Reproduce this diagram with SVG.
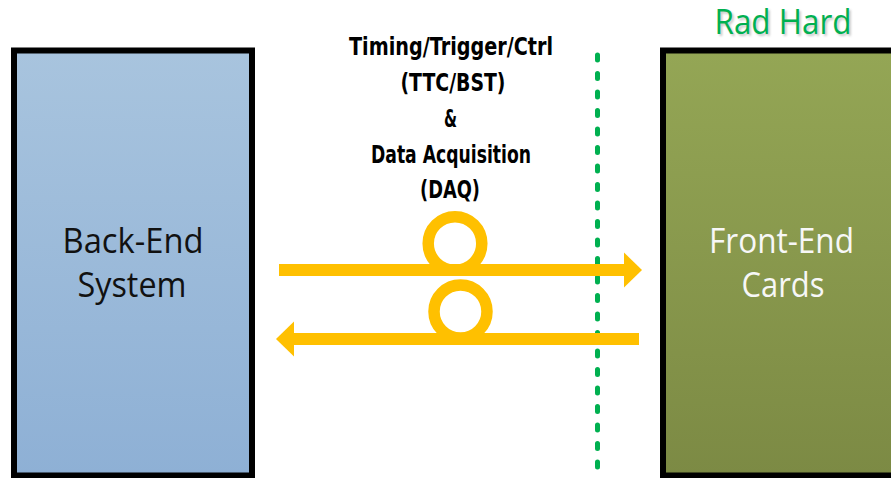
<svg xmlns="http://www.w3.org/2000/svg" width="891" height="478" viewBox="0 0 891 478">
  <defs>
    <linearGradient id="gBack" x1="0" y1="0" x2="0" y2="1">
      <stop offset="0" stop-color="#a8c4de"/>
      <stop offset="1" stop-color="#8eb0d5"/>
    </linearGradient>
    <linearGradient id="gFront" x1="0" y1="0" x2="0" y2="1">
      <stop offset="0" stop-color="#94a655"/>
      <stop offset="1" stop-color="#7c8a44"/>
    </linearGradient>
    <filter id="soft" x="-10%" y="-20%" width="130%" height="160%">
      <feGaussianBlur stdDeviation="1"/>
    </filter>
  </defs>
  <style>
    .box { stroke: #000; stroke-width: 6; }
    .boxText { font-family: "Open Sans", "Liberation Sans", sans-serif; font-weight: 400; font-size: 35px; text-anchor: middle; }
    .label { font-family: "DejaVu Sans", "Liberation Sans", sans-serif; font-weight: bold; font-size: 24px; text-anchor: middle; fill: #000; }
    .fiber { stroke: #ffc000; stroke-width: 12; fill: none; }
    .loop { stroke: #ffc000; stroke-width: 11.5; fill: none; }
    .head { fill: #ffc000; }
    .boundary { stroke: #00b050; stroke-width: 5; stroke-linecap: round; stroke-dasharray: 5 13.5; fill: none; }
    .rad { font-family: "Open Sans", "Liberation Sans", sans-serif; font-size: 34px; text-anchor: middle; }
  </style>

  <!-- Back-end system block -->
  <g id="back-end">
    <rect class="box" x="14" y="50.5" width="238" height="425" fill="url(#gBack)"/>
    <text class="boxText" fill="#111" x="133" y="252.5" textLength="141" lengthAdjust="spacingAndGlyphs">Back-End</text>
    <text class="boxText" fill="#111" x="132" y="297" textLength="109" lengthAdjust="spacingAndGlyphs">System</text>
  </g>

  <!-- Front-end cards block (runs off the right edge) -->
  <g id="front-end">
    <rect class="box" x="663" y="50.5" width="240" height="425" fill="url(#gFront)"/>
    <text class="boxText" fill="#f7f7f7" x="781.5" y="252.5" textLength="145" lengthAdjust="spacingAndGlyphs">Front-End</text>
    <text class="boxText" fill="#f7f7f7" x="783" y="297" textLength="83" lengthAdjust="spacingAndGlyphs">Cards</text>
  </g>

  <!-- Radiation boundary -->
  <g id="rad-hard">
    <line class="boundary" x1="597.5" y1="55" x2="597.5" y2="478"/>
    <text class="rad" fill="#c8c8c8" x="785" y="36" textLength="137" lengthAdjust="spacingAndGlyphs" filter="url(#soft)">Rad Hard</text>
    <text class="rad" fill="#00b050" x="783" y="34" textLength="137" lengthAdjust="spacingAndGlyphs">Rad Hard</text>
  </g>

  <!-- Link description -->
  <g id="link-label">
    <text class="label" x="451" y="55" textLength="204" lengthAdjust="spacingAndGlyphs">Timing/Trigger/Ctrl</text>
    <text class="label" x="453" y="91" textLength="105" lengthAdjust="spacingAndGlyphs">(TTC/BST)</text>
    <text class="label" x="450.5" y="127" textLength="13" lengthAdjust="spacingAndGlyphs">&amp;</text>
    <text class="label" x="451" y="163" textLength="160" lengthAdjust="spacingAndGlyphs">Data Acquisition</text>
    <text class="label" x="450" y="198" textLength="60" lengthAdjust="spacingAndGlyphs">(DAQ)</text>
  </g>

  <!-- Optical fibre links -->
  <g id="connectors">
    <!-- downstream: back-end to front-end -->
    <circle class="loop" cx="455" cy="243.5" r="26.8"/>
    <line class="fiber" x1="279" y1="270" x2="626" y2="270"/>
    <polygon class="head" points="624,252.5 642,270 624,287.5"/>
    <!-- upstream: front-end to back-end -->
    <circle class="loop" cx="460.5" cy="311.5" r="26.5"/>
    <line class="fiber" x1="292" y1="339" x2="639" y2="339"/>
    <polygon class="head" points="294,321.5 276,339 294,356.5"/>
  </g>
</svg>
